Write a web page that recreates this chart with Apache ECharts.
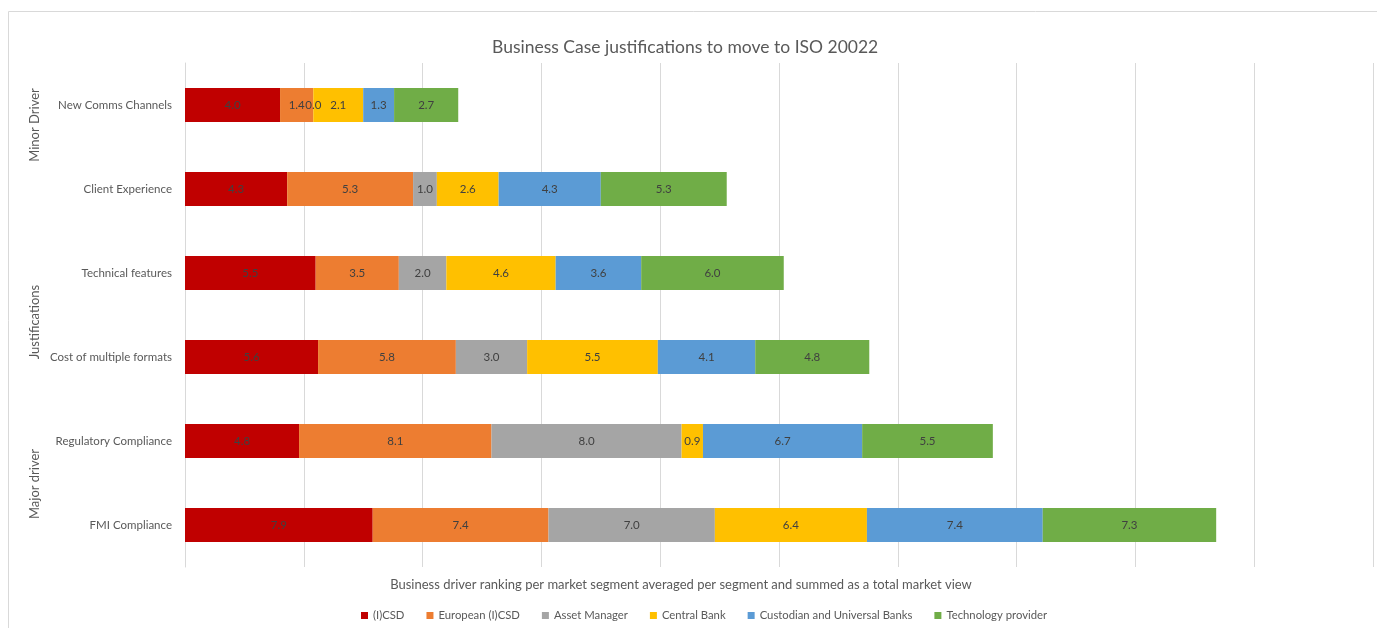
<!DOCTYPE html>
<html>
<head>
<meta charset="utf-8">
<script src="https://cdn.jsdelivr.net/npm/echarts@6/dist/echarts.min.js"></script>
<style>
html,body{margin:0;padding:0;background:#fff;}
#c{width:1377px;height:628px;}
</style>
</head>
<body>
<div id="c"></div>
<script>
const categories = ["New Comms Channels","Client Experience","Technical features","Cost of multiple formats","Regulatory Compliance","FMI Compliance"];
const seriesNames = ["(I)CSD","European (I)CSD","Asset Manager","Central Bank","Custodian and Universal Banks","Technology provider"];
const icsd        = [4.0, 4.3, 5.5, 5.6, 4.8, 7.9];
const europeanIcsd= [1.4, 5.3, 3.5, 5.8, 8.1, 7.4];
const assetManager= [0.0, 1.0, 2.0, 3.0, 8.0, 7.0];
const centralBank = [2.1, 2.6, 4.6, 5.5, 0.9, 6.4];
const custodian   = [1.3, 4.3, 3.6, 4.1, 6.7, 7.4];
const techProvider= [2.7, 5.3, 6.0, 4.8, 5.5, 7.3];
const groupLabels = ["Minor Driver","Justifications","Major driver"];
const titleText = "Business Case justifications to move to ISO 20022";
const xAxisTitle = "Business driver ranking per market segment averaged per segment and summed as a total market view";

const colors = ["#C00000","#ED7D31","#A5A5A5","#FFC000","#5B9BD5","#70AD47"];
const values = [icsd, europeanIcsd, assetManager, centralBank, custodian, techProvider];
const FONT = "Lato, 'Liberation Sans', sans-serif";

const chart = echarts.init(document.getElementById('c'));
chart.setOption({
  animation: false,
  textStyle: { fontFamily: FONT },
  title: {
    text: titleText, left: 487, top: 33,
    textStyle: { fontSize: 17.5, fontWeight: 'normal', color: '#595959', fontFamily: FONT }
  },
  grid: { left: 185, right: 4, top: 63, bottom: 61 },
  legend: {
    bottom: 2, left: 356,
    icon: 'rect', itemWidth: 7, itemHeight: 7, itemGap: 22,
    textStyle: { fontSize: 11.3, color: '#595959', fontFamily: FONT },
    data: seriesNames
  },
  xAxis: {
    type: 'value', min: 0, max: 50, interval: 5,
    axisLabel: { show: false }, axisTick: { show: false }, axisLine: { show: false },
    splitLine: { lineStyle: { color: '#D9D9D9', width: 1 } }
  },
  yAxis: {
    type: 'category', data: categories, inverse: true,
    axisTick: { show: false },
    axisLine: { lineStyle: { color: '#D9D9D9' } },
    axisLabel: { color: '#595959', fontSize: 11.5, margin: 13, fontFamily: FONT }
  },
  series: seriesNames.map((n, i) => ({
    name: n, type: 'bar', stack: 'total', barWidth: 34,
    itemStyle: { color: colors[i] },
    label: {
      show: true, position: 'inside', color: '#404040', fontSize: 11.5, fontFamily: FONT,
      formatter: p => p.value.toFixed(1)
    },
    data: values[i]
  })),
  graphic: [
    { type: 'rect', shape: { x: 8.5, y: 11.5, width: 1380, height: 640 }, style: { fill: 'none', stroke: '#D9D9D9', lineWidth: 1 }, silent: true },
    { type: 'text', x: 681, y: 585, style: { text: xAxisTitle, fontSize: 13, fill: '#595959', align: 'center', verticalAlign: 'middle', fontFamily: FONT } },
    { type: 'text', x: 35, y: 125, rotation: Math.PI/2, style: { text: groupLabels[0], fontSize: 13, fill: '#595959', align: 'center', verticalAlign: 'middle', fontFamily: FONT } },
    { type: 'text', x: 35, y: 322, rotation: Math.PI/2, style: { text: groupLabels[1], fontSize: 13, fill: '#595959', align: 'center', verticalAlign: 'middle', fontFamily: FONT } },
    { type: 'text', x: 35, y: 484, rotation: Math.PI/2, style: { text: groupLabels[2], fontSize: 13, fill: '#595959', align: 'center', verticalAlign: 'middle', fontFamily: FONT } }
  ]
});
</script>
</body>
</html>
